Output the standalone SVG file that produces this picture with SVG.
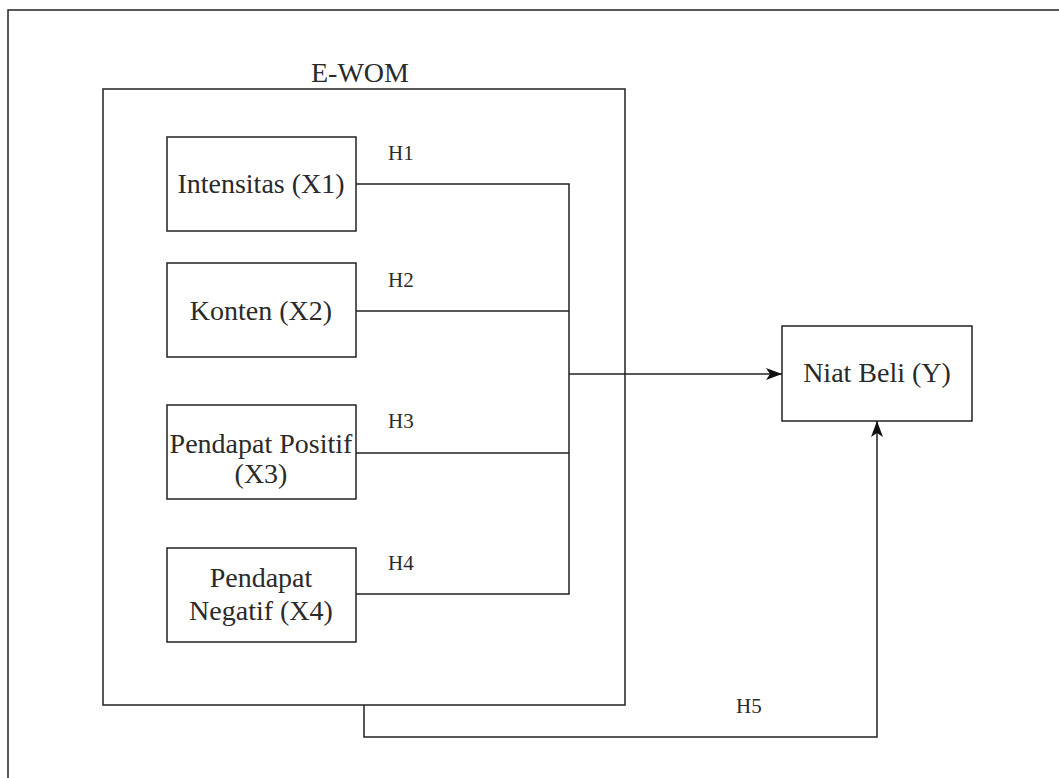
<svg xmlns="http://www.w3.org/2000/svg" width="1059" height="778" viewBox="0 0 1059 778">
<style>
.box{fill:#fff;stroke:#222;stroke-width:1.5}
.ln{fill:none;stroke:#222;stroke-width:1.5}
.t{font-family:"Liberation Serif","Times New Roman",serif;fill:#2a2a2a;text-anchor:middle}
.n{font-size:28px}
.h{font-size:21px;text-anchor:start}
.title{font-size:28px;text-anchor:start}
</style>
<defs>
<marker id="ah" viewBox="0 0 16 12" refX="16" refY="6" markerWidth="16" markerHeight="12" markerUnits="userSpaceOnUse" orient="auto">
<path d="M0,0 L16,6 L0,12 L4,6 Z" fill="#111"/>
</marker>
</defs>
<rect width="1059" height="778" fill="#fff"/>
<path class="ln" d="M8,778 V10 H1059" stroke-width="2" stroke="#111"/>
<g id="ewom">
<rect class="box" x="103" y="89" width="522" height="616"/>
<text class="t title" x="311" y="82">E-WOM</text>
</g>
<g id="x1">
<rect class="box" x="167" y="137" width="189" height="94"/>
<text class="t n" x="261" y="193">Intensitas (X1)</text>
</g>
<g id="x2">
<rect class="box" x="167" y="263" width="189" height="94"/>
<text class="t n" x="261" y="320">Konten (X2)</text>
</g>
<g id="x3">
<rect class="box" x="167" y="405" width="189" height="94"/>
<text class="t n" x="261" y="453">Pendapat Positif</text>
<text class="t n" x="261" y="483">(X3)</text>
</g>
<g id="x4">
<rect class="box" x="167" y="548" width="189" height="94"/>
<text class="t n" x="261" y="587">Pendapat</text>
<text class="t n" x="261" y="620">Negatif (X4)</text>
</g>
<g id="y">
<rect class="box" x="782" y="326" width="190" height="95"/>
<text class="t n" x="877" y="382">Niat Beli (Y)</text>
</g>
<g id="connectors">
<path class="ln" d="M356,184 H569 V594 H356"/>
<path class="ln" d="M356,311 H569"/>
<path class="ln" d="M356,453 H569"/>
<path class="ln" d="M569,374 H782" marker-end="url(#ah)"/>
<path class="ln" d="M364,705 V737 H877 V421" marker-end="url(#ah)"/>
<text class="t h" x="388" y="160">H1</text>
<text class="t h" x="388" y="287">H2</text>
<text class="t h" x="388" y="428">H3</text>
<text class="t h" x="388" y="570">H4</text>
<text class="t h" x="736" y="713">H5</text>
</g>
</svg>
